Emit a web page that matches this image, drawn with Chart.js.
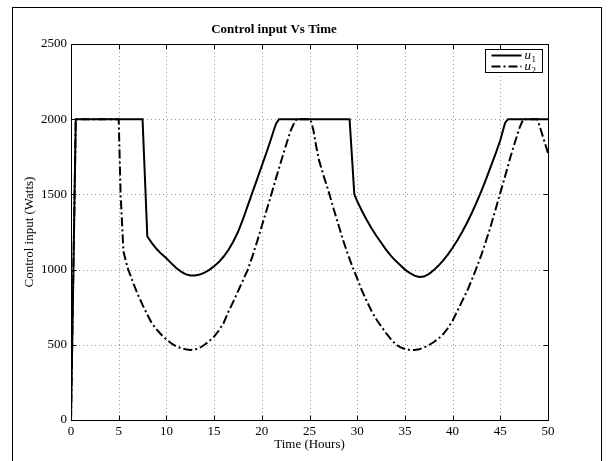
<!DOCTYPE html>
<html><head><meta charset="utf-8">
<script src="https://cdn.jsdelivr.net/npm/chart.js@4"></script>
<style>html,body{margin:0;padding:0;background:#fff;}#wrap{width:608px;height:461px;position:relative;}</style>
</head><body><div id="wrap"><canvas id="c" width="608" height="461"></canvas></div>
<script>
const titleText = 'Control input Vs Time';
const xLabel = 'Time (Hours)';
const yLabel = 'Control input (Watts)';
const xTicks = [0, 5, 10, 15, 20, 25, 30, 35, 40, 45, 50];
const yTicks = [0, 500, 1000, 1500, 2000, 2500];
const seriesNames = ['u', 'u'];
const seriesSubs = ['1', '2'];

const t1 = [0, 0.5, 7.5, 8.0, 8.5, 9.0, 9.5, 10.0, 10.5, 11.0, 11.5, 12.0, 12.5, 13.0, 13.5, 14.0, 14.5, 15.0, 15.5, 16.0, 16.5, 17.0, 17.5, 18.0, 18.5, 19.0, 19.5, 20.0, 20.5, 21.0, 21.3, 21.5, 21.8,
  29.2, 29.7, 30.0, 30.5, 31.0, 31.5, 32.0, 32.5, 33.0, 33.5, 34.0, 34.5, 35.0, 35.5, 36.0, 36.5, 37.0, 37.5, 38.0, 38.5, 39.0, 39.5, 40.0, 40.5, 41.0, 41.5, 42.0, 42.5, 43.0, 43.5, 44.0, 44.5, 45.0, 45.3, 45.5, 45.8, 50];
const u1 = [0, 2000, 2000, 1220, 1175, 1135, 1103, 1075, 1043, 1012, 988, 970, 961, 961, 967, 980, 998, 1022, 1050, 1087, 1130, 1185, 1250, 1330, 1420, 1510, 1600, 1690, 1780, 1875, 1935, 1970, 2000,
  2000, 1500, 1455, 1390, 1330, 1275, 1225, 1180, 1135, 1095, 1060, 1030, 1000, 978, 960, 951, 954, 970, 995, 1025, 1060, 1100, 1145, 1195, 1250, 1310, 1375, 1445, 1520, 1600, 1685, 1770, 1860, 1930, 1975, 2000, 2000];

const t2 = [0, 0.5, 5.0, 5.2, 5.5, 5.75, 6.0, 6.5, 7.0, 7.5, 8.0, 8.5, 9.0, 9.5, 10.0, 10.5, 11.0, 11.5, 12.0, 12.5, 13.0, 13.5, 14.0, 14.5, 15.0, 15.5, 16.0, 16.5, 17.0, 17.5, 18.0, 18.5, 19.0, 19.5, 20.0, 20.5, 21.0, 21.5, 22.0, 22.5, 23.0, 23.5, 23.7,
  25.1, 25.4, 25.7, 26.0, 26.5, 27.0, 27.5, 28.0, 28.5, 29.0, 29.5, 30.0, 30.5, 31.0, 31.5, 32.0, 32.5, 33.0, 33.5, 34.0, 34.5, 35.0, 35.5, 36.0, 36.5, 37.0, 37.5, 38.0, 38.5, 39.0, 39.5, 40.0, 40.5, 41.0, 41.5, 42.0, 42.5, 43.0, 43.5, 44.0, 44.5, 45.0, 45.5, 46.0, 46.5, 47.0, 47.4, 48.9, 50];
const u2 = [0, 2000, 2000, 1500, 1120, 1055, 1000, 915, 835, 765, 700, 640, 600, 565, 536, 510, 491, 478, 470, 466, 468, 480, 500, 525, 555, 595, 645, 720, 785, 855, 925, 995, 1085, 1185, 1290, 1395, 1500, 1610, 1715, 1820, 1920, 1990, 2000,
  2000, 1930, 1820, 1726, 1620, 1520, 1410, 1305, 1200, 1105, 1020, 940, 860, 790, 725, 670, 624, 580, 540, 505, 485, 472, 466, 465, 470, 482, 498, 517, 540, 570, 610, 660, 725, 790, 855, 930, 1010, 1095, 1190, 1290, 1400, 1510, 1620, 1735, 1840, 1940, 2000, 2000, 1775];

const SERIF = "'Liberation Serif', 'Times New Roman', serif";

const pts = (t, v) => t.map((x, i) => ({x: x, y: v[i]}));

const matlabPlugin = {
  id: 'matlab',
  beforeDraw(chart) {
    const ctx = chart.ctx;
    ctx.save();
    ctx.fillStyle = '#fff';
    ctx.fillRect(0, 0, chart.width, chart.height);
    ctx.strokeStyle = '#000';
    ctx.lineWidth = 1;
    ctx.strokeRect(12.5, 7.5, 589, 470);
    ctx.restore();
  },
  beforeDatasetsDraw(chart) {
    const ctx = chart.ctx, a = chart.chartArea;
    const xs = chart.scales.x, ys = chart.scales.y;
    ctx.save();
    ctx.strokeStyle = '#999';
    ctx.lineWidth = 1;
    ctx.setLineDash([1, 3]);
    xTicks.forEach(v => {
      if (v <= xs.min || v >= xs.max) return;
      const p = Math.round(xs.getPixelForValue(v)) + 0.5;
      ctx.beginPath(); ctx.moveTo(p, a.top); ctx.lineTo(p, a.bottom); ctx.stroke();
    });
    yTicks.forEach(v => {
      if (v <= ys.min || v >= ys.max) return;
      const p = Math.round(ys.getPixelForValue(v)) + 0.5;
      ctx.beginPath(); ctx.moveTo(a.left, p); ctx.lineTo(a.right, p); ctx.stroke();
    });
    ctx.restore();
  },
  afterDatasetsDraw(chart) {
    const ctx = chart.ctx, a = chart.chartArea;
    const xs = chart.scales.x, ys = chart.scales.y;
    ctx.save();
    ctx.strokeStyle = '#000';
    ctx.lineWidth = 1;
    ctx.setLineDash([]);
    const L = Math.round(a.left) + 0.5, R = Math.round(a.right) + 0.5;
    const T = Math.round(a.top) + 0.5, B = Math.round(a.bottom) + 0.5;
    ctx.strokeRect(L, T, R - L, B - T);
    const tl = 5;
    xTicks.forEach(v => {
      const p = Math.round(xs.getPixelForValue(v)) + 0.5;
      ctx.beginPath();
      ctx.moveTo(p, B); ctx.lineTo(p, B - tl);
      ctx.moveTo(p, T); ctx.lineTo(p, T + tl);
      ctx.stroke();
    });
    yTicks.forEach(v => {
      const p = Math.round(ys.getPixelForValue(v)) + 0.5;
      ctx.beginPath();
      ctx.moveTo(L, p); ctx.lineTo(L + tl, p);
      ctx.moveTo(R, p); ctx.lineTo(R - tl, p);
      ctx.stroke();
    });
    // legend
    const bw = 57, bh = 23;
    const bx = Math.round(a.right - 6 - bw) + 0.5, by = Math.round(a.top + 5) + 0.5;
    ctx.fillStyle = '#fff';
    ctx.fillRect(bx, by, bw, bh);
    ctx.strokeRect(bx, by, bw, bh);
    chart.data.datasets.forEach((ds, i) => {
      const yy = by + 6 + i * 11;
      ctx.save();
      ctx.strokeStyle = ds.borderColor;
      ctx.lineWidth = ds.borderWidth;
      ctx.setLineDash(ds.borderDash || []);
      ctx.beginPath(); ctx.moveTo(bx + 6, yy); ctx.lineTo(bx + 36, yy); ctx.stroke();
      ctx.restore();
      ctx.fillStyle = '#000';
      ctx.textBaseline = 'alphabetic';
      ctx.textAlign = 'left';
      ctx.font = 'italic 13px ' + SERIF;
      ctx.fillText(seriesNames[i], bx + 39, yy + 3);
      const w = ctx.measureText(seriesNames[i]).width;
      ctx.font = '9px ' + SERIF;
      ctx.fillText(seriesSubs[i], bx + 39 + w + 0.5, yy + 6);
    });
    ctx.restore();
  }
};

new Chart(document.getElementById('c'), {
  type: 'line',
  data: {
    datasets: [
      {label: 'u1', data: pts(t1, u1), borderColor: '#000', borderWidth: 2, pointRadius: 0, fill: false, tension: 0},
      {label: 'u2', data: pts(t2, u2), borderColor: '#000', borderWidth: 2, borderDash: [9, 3, 2, 3], pointRadius: 0, fill: false, tension: 0}
    ]
  },
  options: {
    responsive: false,
    animation: false,
    devicePixelRatio: 1,
    layout: {padding: {left: 0, right: 60, top: 0, bottom: 0}},
    plugins: {
      legend: {display: false},
      tooltip: {enabled: false},
      title: {display: true, text: titleText, color: '#000', font: {family: SERIF, size: 13, weight: 'bold'}, padding: {top: 22, bottom: 6.4}}
    },
    scales: {
      x: {
        type: 'linear', min: 0, max: 50,
        afterBuildTicks: s => { s.ticks = xTicks.map(v => ({value: v})); },
        afterFit: s => { s.height = 41; },
        ticks: {color: '#000', font: {family: SERIF, size: 13}, padding: 4, maxRotation: 0, autoSkip: false, callback: v => String(v)},
        grid: {display: false, drawTicks: false},
        border: {display: false},
        title: {display: true, text: xLabel, color: '#000', font: {family: SERIF, size: 13}, padding: {top: 0, bottom: 9}}
      },
      y: {
        type: 'linear', min: 0, max: 2500,
        afterBuildTicks: s => { s.ticks = yTicks.map(v => ({value: v})); },
        afterFit: s => { s.width = 71; },
        ticks: {color: '#000', font: {family: SERIF, size: 13}, padding: 4, autoSkip: false, callback: v => String(v)},
        grid: {display: false, drawTicks: false},
        border: {display: false},
        title: {display: true, text: yLabel, color: '#000', font: {family: SERIF, size: 13}, padding: {top: 22, bottom: 0}}
      }
    }
  },
  plugins: [matlabPlugin]
});
</script></body></html>
